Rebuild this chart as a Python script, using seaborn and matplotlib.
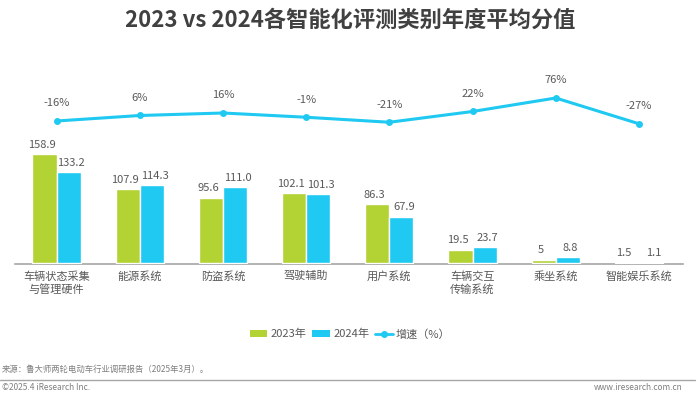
import matplotlib
matplotlib.use('Agg')
import matplotlib.pyplot as plt
from matplotlib.lines import Line2D
from matplotlib.patches import Patch
import pandas as pd
import seaborn as sns

categories = ['车辆状态采集\n与管理硬件', '能源系统', '防盗系统', '驾驶辅助',
              '用户系统', '车辆交互\n传输系统', '乘坐系统', '智能娱乐系统']
score_2023 = [158.9, 107.9, 95.6, 102.1, 86.3, 19.5, 5, 1.5]
score_2024 = [133.2, 114.3, 111.0, 101.3, 67.9, 23.7, 8.8, 1.1]
growth = [-0.16, 0.06, 0.16, -0.01, -0.21, 0.22, 0.76, -0.27]
label_2023 = ['158.9', '107.9', '95.6', '102.1', '86.3', '19.5', '5', '1.5']
label_2024 = ['133.2', '114.3', '111.0', '101.3', '67.9', '23.7', '8.8', '1.1']
series = ['2023年', '2024年']

GREEN = '#B3D234'
BLUE = '#1FC9F1'
TEXT = '#595959'

sns.set_theme(style='white')
plt.rcParams['font.family'] = ['Noto Sans CJK SC', 'DejaVu Sans']

df = pd.DataFrame({
    'cat': categories * 2,
    'year': [series[0]] * len(categories) + [series[1]] * len(categories),
    'score': score_2023 + score_2024,
})

fig = plt.figure(figsize=(7, 3.93), dpi=100)
ax = fig.add_axes([15 / 700, 1 - 264 / 393, 668 / 700, 204 / 393])

sns.barplot(data=df, x='cat', y='score', hue='year', order=categories,
            hue_order=series, palette=[GREEN, BLUE], width=0.58,
            saturation=1, legend=False, ax=ax)

ax.set_xlim(-0.5, 7.53)
ax.set_ylim(-1.5, 297)
ax.set_xlabel('')
ax.set_ylabel('')
ax.set_yticks([])
for s in ['top', 'right', 'left']:
    ax.spines[s].set_visible(False)
ax.spines['bottom'].set_color('#A6A6A6')
ax.spines['bottom'].set_linewidth(1.2)
ax.spines['bottom'].set_zorder(0.5)
ax.tick_params(axis='x', length=0, pad=5, labelsize=8, labelcolor=TEXT)
ax.set_xticks(range(len(categories)))
ax.set_xticklabels(categories, linespacing=1.3, va='top')

# value labels; nudge the two series slightly apart like the original
for container, labels, dx in zip(ax.containers, [label_2023, label_2024], [-2, 2]):
    for bar, lab in zip(container, labels):
        ax.annotate(lab, (bar.get_x() + bar.get_width() / 2, bar.get_height()),
                    xytext=(dx, 3), textcoords='offset points', ha='center',
                    va='bottom', fontsize=8, color=TEXT)

# growth line on its own scale
ax2 = ax.twinx()
sns.lineplot(x=list(range(len(categories))), y=growth, color=BLUE,
             linewidth=2.2, marker='o', markersize=5, markeredgewidth=0,
             ax=ax2)
ax2.set_ylim(-5.88, 2.28)
ax2.set_xlim(-0.5, 7.53)
ax2.set_yticks([])
for s in ax2.spines.values():
    s.set_visible(False)
for i, g in enumerate(growth):
    ax2.annotate(f'{g * 100:.0f}%', (i, g), xytext=(0, 9),
                 textcoords='offset points', ha='center', va='bottom',
                 fontsize=8, color=TEXT)

fig.text(0.5, 1 - 20 / 393, '2023 vs 2024各智能化评测类别年度平均分值',
         ha='center', va='center', fontsize=16, fontweight='bold',
         color='#404040')

handles = [Patch(facecolor=GREEN, edgecolor='none'),
           Patch(facecolor=BLUE, edgecolor='none'),
           Line2D([0], [0], color=BLUE, lw=2, marker='o', markersize=4)]
fig.legend(handles, ['2023年', '2024年', '增速（%）'], loc='center',
           bbox_to_anchor=(350 / 700, 1 - 334 / 393), ncol=3, frameon=False,
           fontsize=8, handlelength=1.6, handleheight=0.5, columnspacing=0.5,
           handletextpad=0.3, labelcolor=TEXT)

fig.text(2 / 700, 1 - 369 / 393, '来源：鲁大师两轮电动车行业调研报告（2025年3月）。',
         ha='left', va='center', fontsize=6, color='#7F7F7F')
fig.add_artist(Line2D([0, 695 / 700], [1 - 380 / 393] * 2, color='#A6A6A6',
                      lw=1, transform=fig.transFigure))
fig.text(2 / 700, 1 - 388 / 393, '©2025.4 iResearch Inc.', ha='left',
         va='center', fontsize=6, color='#7F7F7F')
fig.text(683 / 700, 1 - 388 / 393, 'www.iresearch.com.cn', ha='right',
         va='center', fontsize=6, color='#7F7F7F')

fig.savefig('out.png', dpi=100)
